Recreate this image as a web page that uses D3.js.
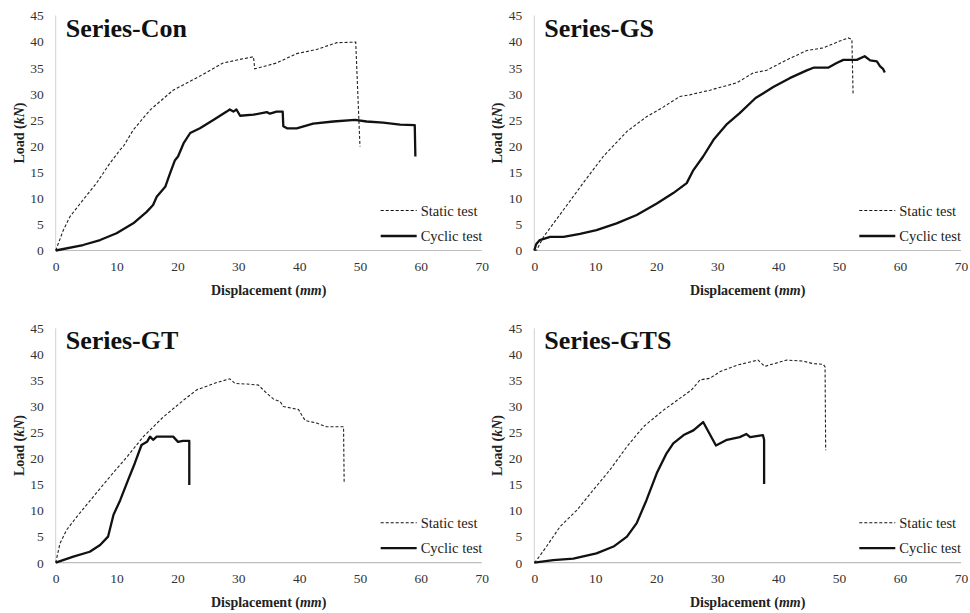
<!DOCTYPE html>
<html>
<head>
<meta charset="utf-8">
<script src="https://cdn.jsdelivr.net/npm/d3@7"></script>
<style>
  body { margin: 0; background: #fff; }
  svg { display: block; font-family: "Liberation Serif", "Times New Roman", serif; }
</style>
</head>
<body>
<svg id="chart" width="970" height="613"></svg>
<script>
// load-displacement curves, [displacement mm, load kN]
var panelTitles = ["Series-Con", "Series-GS", "Series-GT", "Series-GTS"];
var legendLabels = ["Static test", "Cyclic test"];
var xTicks = [0, 10, 20, 30, 40, 50, 60, 70];
var yTicks = [0, 5, 10, 15, 20, 25, 30, 35, 40, 45];

var conStatic = [[0,0],[1.25,3.9],[2.35,6.5],[4.5,9.7],[6.7,12.9],[8.9,16.7],[10.6,19.3],[11.1,19.9],
  [12.75,23.1],[15.5,26.9],[19.3,30.7],[23.7,33.4],[27.5,35.9],[30.3,36.6],[32.5,37.1],[32.7,34.8],
  [36.3,35.9],[39.6,37.7],[42.9,38.5],[46.2,39.8],[49.3,39.9],[50,19.9]];
var conCyclic = [[0,0],[4.5,1.05],[7.3,2],[10,3.3],[12.75,5.2],[14.95,7.4],[16,8.7],[16.6,10.3],[18,12.2],
  [18.8,14.8],[19.6,17.3],[20.1,18],[21,20.5],[22.1,22.5],[23.7,23.4],[25.9,25],[28.1,26.6],[28.6,27],
  [29.2,26.6],[29.7,27],[30.3,25.8],[32.5,26],[34.7,26.5],[35.2,26.2],[36.3,26.6],[37.3,26.6],[37.4,23.8],
  [38,23.4],[39.6,23.4],[42.3,24.3],[45.6,24.7],[49.2,25],[51.1,24.7],[53.8,24.5],[56.6,24.1],[59,24],[59.1,18]];

var gsStatic = [[0,0],[0.4,0.1],[1.5,2.6],[4.8,7.8],[8,12.9],[11.3,18],[15.2,22.8],[18.4,25.6],
  [21.2,27.5],[23.9,29.5],[25.5,29.8],[28.8,30.7],[33.2,32.1],[35.9,34],[38.1,34.5],[41.4,36.5],[44.7,38.3],
  [47.4,38.8],[50.1,40.1],[51.5,40.7],[52.1,40.4],[52.3,29.8]];
var gsCyclic = [[0,0],[0.3,1.2],[0.9,2],[2.6,2.6],[4.8,2.6],[7.5,3.2],[10.2,3.9],[13.5,5.2],[16.8,6.8],
  [20.1,9],[22.8,11],[25,12.9],[26.1,15.4],[27.7,18],[29.4,21.2],[31.5,24.1],
  [33.7,26.3],[36.3,29.2],[39.2,31.3],[41.9,33],[44.7,34.5],[45.8,35],[48.2,35],[49.6,35.9],[50.7,36.5],
  [52.9,36.5],[54.2,37.2],[55.1,36.4],[56.2,36.2],[56.7,35.3],[57.2,34.8],[57.5,34.1]];

var gtStatic = [[0,0],[0.7,3.7],[1.8,6.3],[3.45,8.8],[6.2,12.7],[8.9,16.5],[11.7,20.3],[14.4,24.2],
  [17.7,28],[21,31.2],[23.2,33.2],[26.5,34.6],[28.6,35.3],[29.5,34.4],[31.4,34.3],[33.3,34.1],[34.7,32.5],
  [35.8,31.4],[36.9,30.9],[37.4,30],[39.9,29.4],[40.4,28.4],[41,27.3],[42.9,26.8],[44.5,26.1],[47.3,26.1],[47.4,15.2]];
var gtCyclic = [[0,0],[2.9,1.15],[5.6,2.1],[7.3,3.4],[8.6,5],[9.5,9.2],[10.6,12],[11.9,15.9],[13,19.1],
  [14.1,22.6],[15,23.2],[15.5,24.2],[16,23.6],[16.6,24.2],[19.3,24.2],[20.1,23.2],[20.9,23.4],[21.95,23.4],[21.95,14.9]];

var gtsStatic = [[0,0],[0.4,0.5],[2,3.1],[4.2,6.9],[7,10.1],[9.7,14],[12.4,17.8],[15.2,22.3],
  [17.9,26.1],[21.2,29.3],[25,32.5],[25.8,33.2],[27.2,35.1],[28.8,35.4],[30.5,36.7],[33.5,38],[36.7,38.9],
  [37.8,37.7],[41.4,38.9],[44.1,38.7],[45.8,38.2],[47.4,38.1],[47.7,37.6],[47.8,21.6]];
var gtsCyclic = [[0,0],[3.1,0.5],[6.4,0.8],[10.2,1.8],[13,3.1],[15.2,5],[16.8,7.6],[18.4,12],[20.1,17.2],
  [21.7,21],[22.8,22.9],[24.5,24.5],[26.1,25.4],[27.7,27],[29.8,22.5],[31.6,23.6],[33.7,24.1],
  [34.8,24.7],[35.4,24.1],[37.5,24.5],[37.7,23.6],[37.7,15.1]];

var staticSeries = [conStatic, gsStatic, gtStatic, gtsStatic];
var cyclicSeries = [conCyclic, gsCyclic, gtCyclic, gtsCyclic];

var svg = d3.select("#chart");

// plot areas: left, right, bottom (y=0), top (y=45)
var frames = [
  { l: 55.7, r: 481.7, b: 250.5, t: 15.5 },
  { l: 534.3, r: 961, b: 250.5, t: 15.5 },
  { l: 55.7, r: 481.7, b: 562.7, t: 328.3 },
  { l: 534.3, r: 961, b: 562.7, t: 328.3 }
];

frames.forEach(function(f, i) {
  var x = d3.scaleLinear().domain([0, 70]).range([f.l, f.r]);
  var y = d3.scaleLinear().domain([0, 45]).range([f.b, f.t]);
  var g = svg.append("g");

  // axis lines
  g.append("line").attr("x1", x(0)).attr("x2", x(0)).attr("y1", y(0)).attr("y2", y(45))
    .attr("stroke", "#d0d0d0").attr("stroke-width", 1);
  g.append("line").attr("x1", x(0)).attr("x2", x(70)).attr("y1", y(0)).attr("y2", y(0))
    .attr("stroke", "#bdbdbd").attr("stroke-width", 1.2);

  var ya = g.append("g").attr("transform", "translate(" + x(0) + ",0)")
    .call(d3.axisLeft(y).tickValues(yTicks).tickSize(0).tickPadding(12));
  var xa = g.append("g").attr("transform", "translate(0," + y(0) + ")")
    .call(d3.axisBottom(x).tickValues(xTicks).tickSize(0).tickPadding(11));
  [ya, xa].forEach(function(a) {
    a.select(".domain").remove();
    a.selectAll("text").attr("font-family", "Liberation Serif, serif").attr("font-size", 13.5).attr("fill", "#333");
  });

  var line = d3.line().x(function(d) { return x(d[0]); }).y(function(d) { return y(d[1]); });

  g.append("path").datum(staticSeries[i]).attr("d", line)
    .attr("fill", "none").attr("stroke", "#222").attr("stroke-width", 1.1).attr("stroke-dasharray", "3,2");
  g.append("path").datum(cyclicSeries[i]).attr("d", line)
    .attr("fill", "none").attr("stroke", "#111").attr("stroke-width", 2.3).attr("stroke-linejoin", "round");

  // title
  g.append("text").attr("x", x(0) + 10).attr("y", y(45) + 21)
    .attr("font-size", 26).attr("font-weight", "bold").attr("fill", "#111")
    .text(panelTitles[i]);

  // axis titles
  var xt = g.append("text").attr("x", (x(0) + x(70)) / 2).attr("y", y(0) + 44)
    .attr("text-anchor", "middle").attr("font-size", 14).attr("font-weight", "bold").attr("fill", "#222");
  xt.append("tspan").text("Displacement (");
  xt.append("tspan").attr("font-style", "italic").text("mm");
  xt.append("tspan").text(")");

  var yt = g.append("text")
    .attr("transform", "translate(" + (x(0) - 32) + "," + ((y(0) + y(45)) / 2) + ") rotate(-90)")
    .attr("text-anchor", "middle").attr("font-size", 14).attr("font-weight", "bold").attr("fill", "#222");
  yt.append("tspan").text("Load (");
  yt.append("tspan").attr("font-style", "italic").text("kN");
  yt.append("tspan").text(")");

  // legend
  var lx = x(0) + 325;
  var rows = [{ y: y(0) - 40, dash: "3,2", w: 1.1 }, { y: y(0) - 14.5, dash: null, w: 2.3 }];
  rows.forEach(function(r, k) {
    g.append("line").attr("x1", lx).attr("x2", lx + 36).attr("y1", r.y).attr("y2", r.y)
      .attr("stroke", "#111").attr("stroke-width", r.w).attr("stroke-dasharray", r.dash);
    g.append("text").attr("x", lx + 40).attr("y", r.y + 5)
      .attr("font-size", 14.5).attr("fill", "#222").text(legendLabels[k]);
  });
});
</script>
</body>
</html>
